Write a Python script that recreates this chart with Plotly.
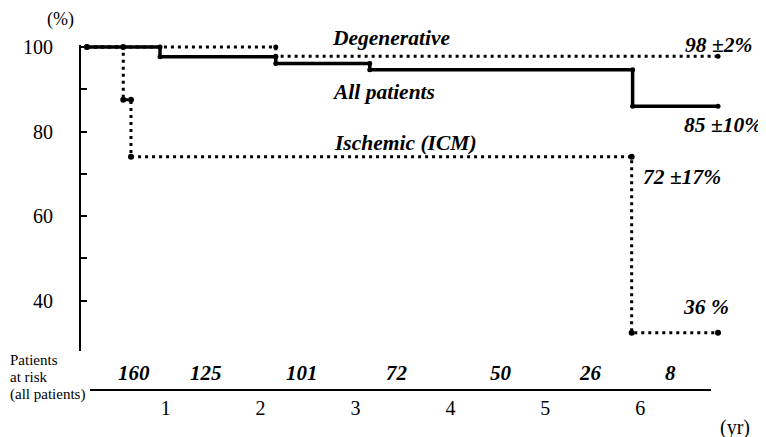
import plotly.graph_objects as go

# ---- data ----
all_times = [0.17, 0.94, 2.16, 3.15, 5.92]
all_surv = [100, 97.7, 96.1, 94.6, 86.0]
all_end = 6.82

deg_times = [0.17, 2.16]
deg_surv = [100, 97.8]
deg_end = 6.82

isc_times = [0.17, 0.553, 0.634, 5.91]
isc_surv = [100, 87.5, 74.0, 32.4]
isc_end = 6.82

year_ticks = [1, 2, 3, 4, 5, 6]
y_ticks = [40, 50, 60, 70, 80, 90, 100]
y_tick_text = ["40", "", "60", "", "80", "", "100"]

risk_counts = [160, 125, 101, 72, 50, 26, 8]
risk_label_x = [0.666, 1.425, 2.433, 3.437, 4.533, 5.476, 6.319]
risk_caption = ["Patients", "at risk", "(all patients)"]

FONT = "Liberation Serif"


def corners(times, surv, end):
    xs, ys = [], []
    for i, s in enumerate(surv):
        t0 = times[i]
        t1 = times[i + 1] if i + 1 < len(times) else end
        xs += [t0, t1]
        ys += [s, s]
    return xs, ys


fig = go.Figure()

dx, dy = corners(deg_times, deg_surv, deg_end)
fig.add_trace(go.Scatter(x=dx, y=dy, mode="lines+markers",
                         line=dict(color="black", width=3, dash="3px,4px"),
                         marker=dict(color="black", size=5), cliponaxis=False,
                         showlegend=False, hoverinfo="skip"))
ix, iy = corners(isc_times, isc_surv, isc_end)
fig.add_trace(go.Scatter(x=ix, y=iy, mode="lines+markers",
                         line=dict(color="black", width=3, dash="3px,4px"),
                         marker=dict(color="black", size=6), cliponaxis=False,
                         showlegend=False, hoverinfo="skip"))
ax, ay = corners(all_times, all_surv, all_end)
fig.add_trace(go.Scatter(x=ax, y=ay, mode="lines+markers",
                         line=dict(color="black", width=3.5),
                         marker=dict(color="black", size=5), cliponaxis=False,
                         showlegend=False, hoverinfo="skip"))
# empty trace so the secondary time axis is drawn
fig.add_trace(go.Scatter(x=[], y=[], xaxis="x2", yaxis="y", showlegend=False))

annots = []


def bi(text, x, y, size=21.5, yref="y"):
    annots.append(dict(x=x, y=y, xref="x", yref=yref, text="<b><i>%s</i></b>" % text,
                       showarrow=False, font=dict(family=FONT, size=size, color="black"),
                       xanchor="center", yanchor="middle"))


bi("Degenerative", 3.376, 1.0194, yref="paper")
bi("All patients", 3.30, 89.4)
bi("Ischemic (ICM)", 3.527, 77.3)
bi("98 ±2%", 6.83, 1.0, yref="paper")
bi("85 ±10%", 6.87, 81.5)
bi("72 ±17%", 6.437, 69.3)
bi("36 %", 6.688, 38.5)

for xv, n in zip(risk_label_x, risk_counts):
    annots.append(dict(x=xv, y=0.0484, xref="x", yref="paper", text="<b><i>%d</i></b>" % n,
                       showarrow=False, font=dict(family=FONT, size=21, color="black"),
                       xanchor="center", yanchor="middle"))

for k, line in enumerate(risk_caption):
    annots.append(dict(x=-0.1134, y=0.087 - k * 0.0507, xref="paper", yref="paper",
                       text=line, align="left", showarrow=False,
                       font=dict(family=FONT, size=15, color="black"),
                       xanchor="left", yanchor="middle"))
annots.append(dict(x=-0.0326, y=1.0725, xref="paper", yref="paper", text="(%)",
                   showarrow=False, borderpad=0,
                   font=dict(family=FONT, size=18, color="black"),
                   xanchor="center", yanchor="middle"))
annots.append(dict(x=1.0155, y=-0.1101, xref="paper", yref="paper", text="(yr)",
                   showarrow=False, font=dict(family=FONT, size=20, color="black"),
                   xanchor="center", yanchor="middle"))

fig.update_layout(
    template="none",
    width=758, height=429,
    margin=dict(l=73, r=41, t=37, b=47, autoexpand=False),
    paper_bgcolor="white", plot_bgcolor="rgba(0,0,0,0)",
    font=dict(family=FONT, color="black"),
    xaxis=dict(domain=[0, 1], range=[0.1075, 6.8935], visible=False,
               showgrid=False, zeroline=False, automargin=False),
    xaxis2=dict(domain=[0.01398, 0.97826], range=[0.2023, 6.7461], anchor="free",
                position=0, showline=True, linecolor="black", linewidth=2,
                ticks="", tickvals=year_ticks, showgrid=False, zeroline=False,
                automargin=False,
                tickfont=dict(family=FONT, size=20, color="black")),
    yaxis=dict(domain=[0.113, 1], range=[28.05, 100.47], anchor="x",
               showline=True, linecolor="black", linewidth=2,
               ticks="inside", ticklen=6, tickwidth=2, tickcolor="black",
               tickvals=y_ticks, ticktext=y_tick_text, ticklabelstandoff=22,
               showgrid=False, zeroline=False, automargin=False,
               tickfont=dict(family=FONT, size=20, color="black")),
    annotations=annots,
)

fig.write_html("out.html")
